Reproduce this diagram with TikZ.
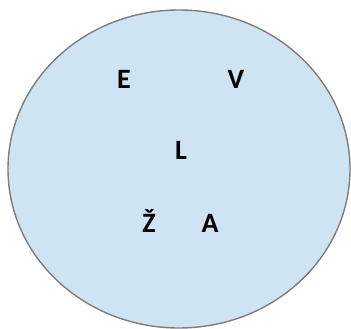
\documentclass[tikz,border=0pt]{standalone}
\usepackage{fontspec}
\setmainfont{Carlito}
\definecolor{setfill}{RGB}{207,228,243}
\definecolor{setline}{RGB}{125,125,125}
\begin{document}
\begin{tikzpicture}[x=1pt,y=1pt,
    setbody/.style={draw=setline,line width=1.4pt,fill=setfill},
    elt/.style={anchor=base,inner sep=0pt,font=\fontsize{28}{30}\selectfont\bfseries}]
  \useasboundingbox (0,0) rectangle (351,329);
  % ---- the set ----
  \draw[setbody] (179,160) ellipse [x radius=171,y radius=159];
  % ---- its elements ----
  \node[elt] (e) at (124,240) {E};
  \node[elt] (v) at (236,240) {V};
  \node[elt] (l) at (181,169) {L};
  \node[elt] (zh) at (149,96) {Ž};
  \node[elt] (a) at (210,96) {A};
\end{tikzpicture}
\end{document}
